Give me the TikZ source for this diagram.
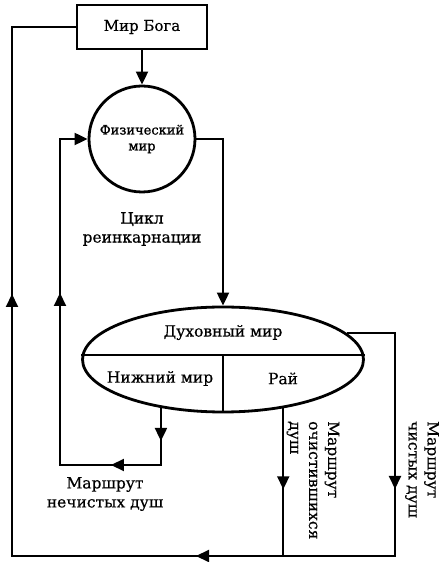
\documentclass[tikz,border=0pt]{standalone}
\usepackage{fontspec}
\setmainfont{DejaVu Serif}[FakeBold=0.5]
\newfontfamily\heavyfont{DejaVu Serif}[FakeBold=1.2]
\usetikzlibrary{shapes.geometric, arrows.meta, decorations.markings}
\tikzstyle{world} = [
    rectangle,
    minimum width=130pt,
    minimum height=44pt,
    line width=2.4pt,
    draw=black,
    font=\fontsize{15}{18}\selectfont
]
\tikzstyle{sphere} = [
    circle,
    minimum size=106pt,
    inner sep=0pt,
    line width=2.8pt,
    align=center,
    draw=black,
    font=\heavyfont\fontsize{13}{16}\selectfont
]
\tikzstyle{realm} = [
    ellipse,
    minimum width=281pt,
    minimum height=105pt,
    inner sep=0pt,
    line width=2.8pt,
    draw=black
]
\tikzstyle{caption} = [
    align=center,
    inner sep=0pt,
    font=\fontsize{15.5}{19}\selectfont
]
\tikzstyle{route} = [line width=2pt]
\tikzstyle{arrow} = [route, -{Triangle[length=13pt,width=12pt]}]
\tikzset{tip at/.style={postaction={decorate, decoration={markings,
    mark=at position #1 with {\arrow{Triangle[length=13pt,width=12pt]}}}}}}

\begin{document}
\begin{tikzpicture}[x=1pt, y=1pt, node distance=112pt]

\useasboundingbox (0,0) rectangle (439,562);

\node (god) [world] at (142,535) {Мир Бога};

\node (phys) [sphere, below of=god] {Физический\\мир};

\node (cycle) [caption, below of=phys, node distance=90pt]
{Цикл\\реинкарнации};

\node (spirit) [realm, below of=phys, xshift=81pt, yshift=-108.5pt] {};

\node (spirittext) [caption, above of=spirit, node distance=27pt]
{Духовный мир};

\node (lower) [caption, below of=spirit, node distance=19pt, xshift=-63pt]
{Нижний мир};

\node (paradise) [caption, below of=spirit, node distance=19pt, xshift=60pt]
{Рай};

\node (unclean) [caption, below of=lower, node distance=115.5pt, xshift=-55pt]
{Маршрут\\нечистых душ};

\node (purified) [caption, rotate=-90, anchor=west, align=left] at (313,141)
{Маршрут\\очистившихся\\душ};

\node (pure) [caption, rotate=-90, anchor=west, align=left] at (422,141)
{Маршрут\\чистых душ};

\coordinate (corner) at (395,6);
\coordinate (leftend) at (12,6);
\coordinate (turn) at (60,97);
\coordinate (join) at (spirit.-39 |- corner);

\draw [arrow] (god) -- (phys);
\draw [arrow] (phys.east) -| (spirit.north);

\draw [arrow, tip at=33pt, tip at=107pt, tip at=330pt]
    (spirit.-142) |- (turn) |- (phys.west);

\draw [route, tip at=81pt] (spirit.-39) -- (join);

\draw [route, tip at=204pt, tip at=470pt, tip at=916pt]
    (spirit.12) -| (corner) -- (leftend) |- (god.west);

\draw [route] ([yshift=4pt]spirit.west) -- ([yshift=4pt]spirit.east);
\draw [route] ([yshift=4pt]spirit.center) -- (spirit.south);

\end{tikzpicture}
\end{document}
